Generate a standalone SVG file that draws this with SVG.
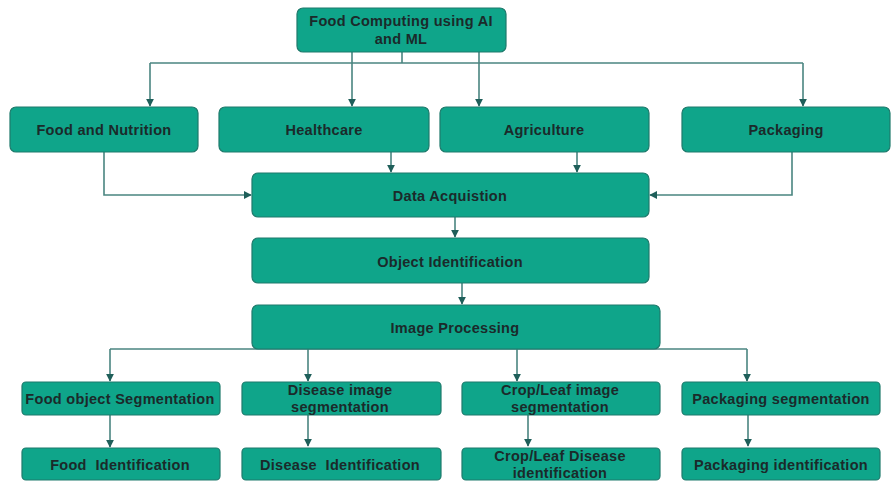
<svg xmlns="http://www.w3.org/2000/svg" width="891" height="481" viewBox="0 0 891 481">
  <style>
    .box { fill: #0fa58a; stroke: #1f7a6c; stroke-width: 1.2; }
    .lbl { font-family: "Liberation Sans", Arial, sans-serif; font-size: 14.5px; font-weight: bold; fill: #1b2a2a; text-anchor: middle; letter-spacing: 0.3px; white-space: pre; }
    .edge { fill: none; stroke: #4a8580; stroke-width: 1.6; }
  </style>
  <defs>
    <marker id="arrow" viewBox="0 0 10 10" refX="9" refY="5" markerWidth="8" markerHeight="8" markerUnits="userSpaceOnUse" orient="auto">
      <path d="M0,0 L10,5 L0,10 Z" fill="#1f5f5a"/>
    </marker>
  </defs>
  <rect width="891" height="481" fill="#ffffff"/>

  <!-- connectors -->
  <g id="connectors">
    <!-- root to domains -->
    <path class="edge" d="M402,52 V63"/>
    <path class="edge" d="M150,63 H803"/>
    <path class="edge" d="M150,63 V106" marker-end="url(#arrow)"/>
    <path class="edge" d="M352,52 V106" marker-end="url(#arrow)"/>
    <path class="edge" d="M479,52 V106" marker-end="url(#arrow)"/>
    <path class="edge" d="M803,63 V106" marker-end="url(#arrow)"/>
    <!-- domains to data acquisition -->
    <path class="edge" d="M104,152 V195 H251" marker-end="url(#arrow)"/>
    <path class="edge" d="M391,152 V172" marker-end="url(#arrow)"/>
    <path class="edge" d="M577,152 V172" marker-end="url(#arrow)"/>
    <path class="edge" d="M792,152 V195 H650" marker-end="url(#arrow)"/>
    <!-- pipeline -->
    <path class="edge" d="M455,217 V237" marker-end="url(#arrow)"/>
    <path class="edge" d="M462,283 V304" marker-end="url(#arrow)"/>
    <!-- image processing to segmentation -->
    <path class="edge" d="M110,349 H747"/>
    <path class="edge" d="M110,349 V381" marker-end="url(#arrow)"/>
    <path class="edge" d="M308,349 V381" marker-end="url(#arrow)"/>
    <path class="edge" d="M517,349 V381" marker-end="url(#arrow)"/>
    <path class="edge" d="M747,349 V381" marker-end="url(#arrow)"/>
    <!-- segmentation to identification -->
    <path class="edge" d="M110,415 V447" marker-end="url(#arrow)"/>
    <path class="edge" d="M308,415 V446" marker-end="url(#arrow)"/>
    <path class="edge" d="M528,415 V446" marker-end="url(#arrow)"/>
    <path class="edge" d="M748,415 V446" marker-end="url(#arrow)"/>
  </g>

  <g id="root">
    <rect class="box" x="297" y="8" width="209" height="44" rx="6"/>
    <text class="lbl" x="401" y="26">Food Computing using AI</text>
    <text class="lbl" x="401" y="44">and ML</text>
  </g>

  <g id="food-nutrition">
    <rect class="box" x="10" y="107" width="188" height="45" rx="6"/>
    <text class="lbl" x="104" y="135">Food and Nutrition</text>
  </g>
  <g id="healthcare">
    <rect class="box" x="219" y="107" width="210" height="45" rx="6"/>
    <text class="lbl" x="324" y="135">Healthcare</text>
  </g>
  <g id="agriculture">
    <rect class="box" x="440" y="107" width="209" height="45" rx="6"/>
    <text class="lbl" x="544" y="135">Agriculture</text>
  </g>
  <g id="packaging">
    <rect class="box" x="682" y="107" width="208" height="45" rx="6"/>
    <text class="lbl" x="786" y="135">Packaging</text>
  </g>

  <g id="data-acquisition">
    <rect class="box" x="252" y="173" width="397" height="44" rx="6"/>
    <text class="lbl" x="450" y="201">Data Acquistion</text>
  </g>
  <g id="object-identification">
    <rect class="box" x="252" y="238" width="397" height="45" rx="6"/>
    <text class="lbl" x="450" y="267">Object Identification</text>
  </g>
  <g id="image-processing">
    <rect class="box" x="252" y="305" width="408" height="44" rx="6"/>
    <text class="lbl" x="455" y="333">Image Processing</text>
  </g>

  <g id="food-segmentation">
    <rect class="box" x="22" y="382" width="198" height="33" rx="4"/>
    <text class="lbl" x="120" y="404">Food object Segmentation</text>
  </g>
  <g id="disease-segmentation">
    <rect class="box" x="242" y="382" width="199" height="33" rx="4"/>
    <text class="lbl" x="340" y="395">Disease image</text>
    <text class="lbl" x="340" y="412">segmentation</text>
  </g>
  <g id="crop-segmentation">
    <rect class="box" x="462" y="382" width="198" height="33" rx="4"/>
    <text class="lbl" x="560" y="395">Crop/Leaf image</text>
    <text class="lbl" x="560" y="412">segmentation</text>
  </g>
  <g id="packaging-segmentation">
    <rect class="box" x="682" y="382" width="198" height="33" rx="4"/>
    <text class="lbl" x="781" y="404">Packaging segmentation</text>
  </g>

  <g id="food-identification">
    <rect class="box" x="22" y="448" width="198" height="32" rx="4"/>
    <text class="lbl" x="120" y="470" xml:space="preserve">Food  Identification</text>
  </g>
  <g id="disease-identification">
    <rect class="box" x="242" y="448" width="199" height="32" rx="4"/>
    <text class="lbl" x="340" y="470" xml:space="preserve">Disease  Identification</text>
  </g>
  <g id="crop-identification">
    <rect class="box" x="462" y="448" width="198" height="32" rx="4"/>
    <text class="lbl" x="560" y="461">Crop/Leaf Disease</text>
    <text class="lbl" x="560" y="478">identification</text>
  </g>
  <g id="packaging-identification">
    <rect class="box" x="682" y="448" width="198" height="32" rx="4"/>
    <text class="lbl" x="781" y="470">Packaging identification</text>
  </g>
</svg>
